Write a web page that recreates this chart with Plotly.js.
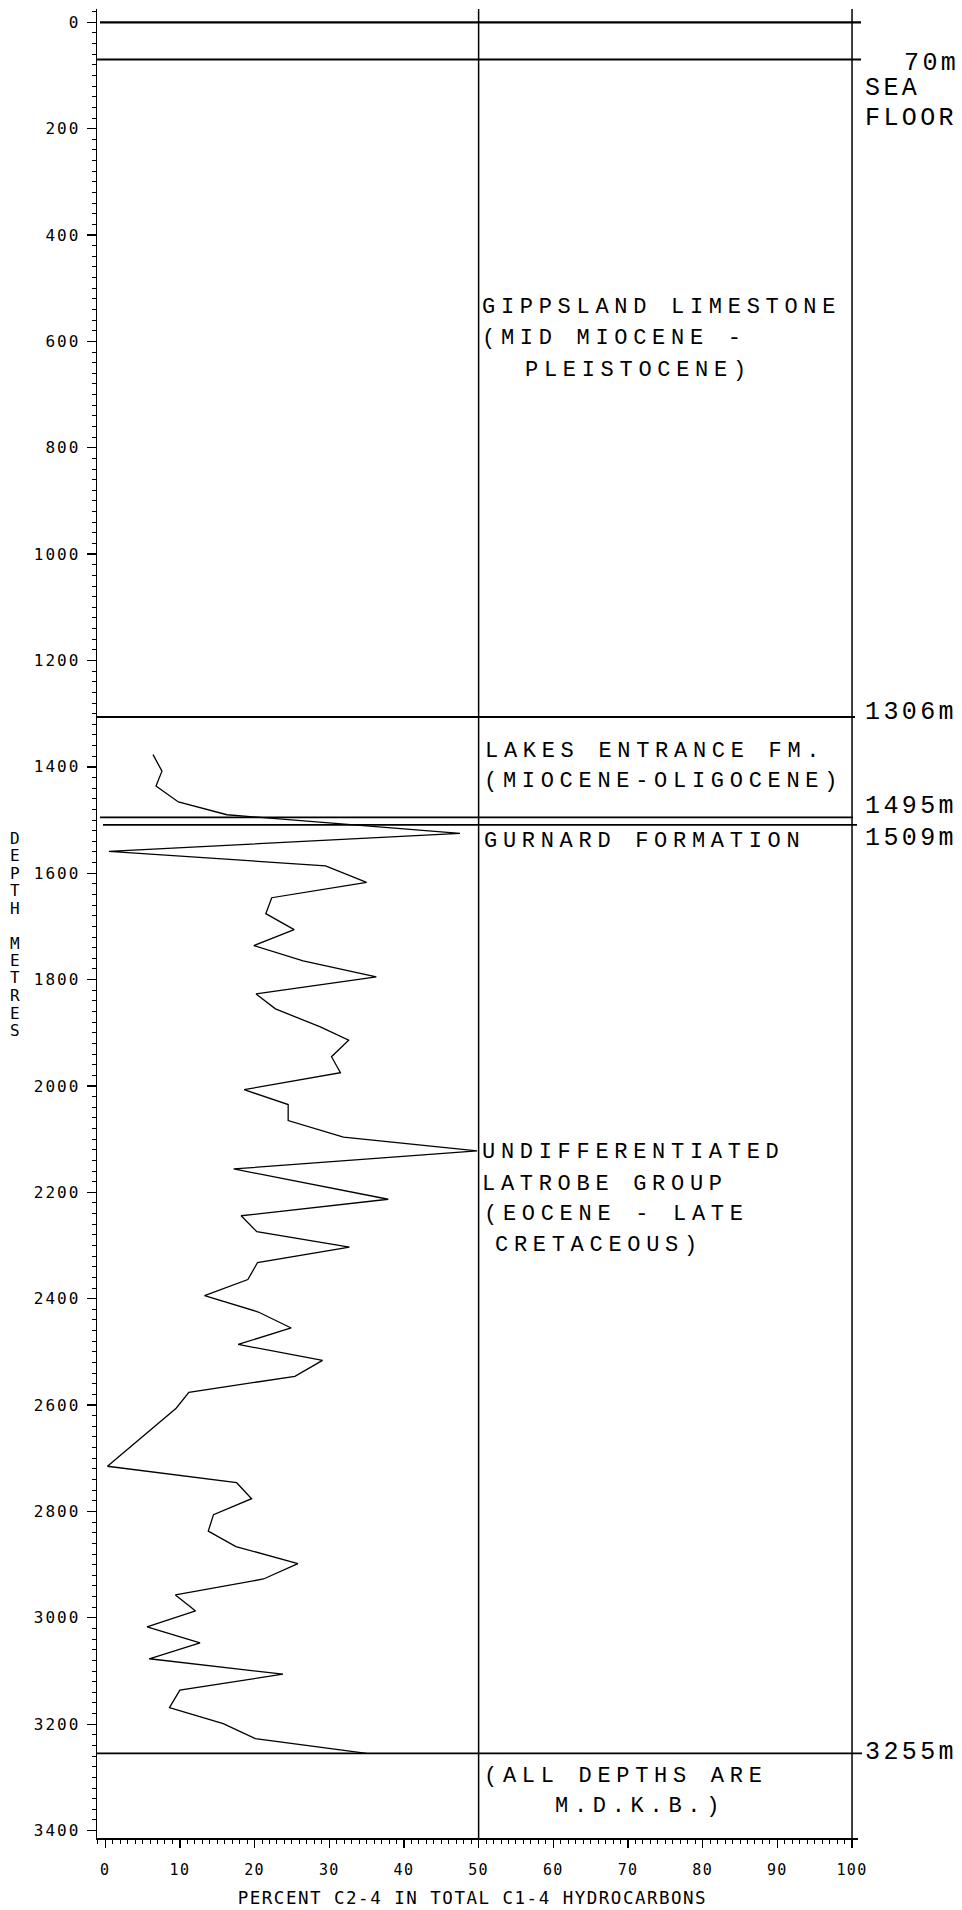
<!DOCTYPE html>
<html>
<head>
<meta charset="utf-8">
<script src="https://cdn.plot.ly/plotly-3.0.1.min.js"></script>
<style>
  html, body { margin: 0; padding: 0; background: #fff; }
  #chart { width: 962px; height: 1910px; }
</style>
</head>
<body>
<div id="chart"></div>
<script>
// ---- Well log data: percent C2-4 in total C1-4 hydrocarbons vs measured depth ----
const depthM = [1377, 1408, 1436, 1466, 1490, 1525, 1559, 1586, 1617, 1646,
                1676, 1706, 1736, 1765, 1795, 1827, 1855, 1889, 1914, 1945,
                1975, 2007, 2035, 2065, 2096, 2122, 2156, 2213, 2244, 2274,
                2303, 2332, 2364, 2394, 2425, 2455, 2486, 2516, 2546, 2576,
                2606, 2715, 2746, 2776, 2806, 2837, 2866, 2898, 2927, 2957,
                2987, 3017, 3047, 3077, 3106, 3136, 3169, 3199, 3227, 3255];
const pctC24 = [6.4, 7.6, 6.8, 9.8, 16.3, 47.5, 0.5, 29.5, 35.0, 22.3,
                21.5, 25.3, 19.9, 26.5, 36.3, 20.2, 22.8, 28.8, 32.6, 30.3,
                31.5, 18.6, 24.5, 24.5, 31.9, 49.8, 17.2, 37.9, 18.2, 20.3,
                32.7, 20.4, 19.1, 13.3, 20.5, 24.9, 17.8, 29.1, 25.4, 11.2,
                9.5, 0.3, 17.6, 19.6, 14.5, 13.8, 17.5, 25.8, 21.2, 9.4,
                12.1, 5.6, 12.7, 5.9, 23.8, 10.0, 8.6, 15.8, 20.1, 35.0];

// Formation boundaries (m) and the tops that get a depth label
const boundaryDepths = [0, 70, 1306, 1495, 1509, 3255];
const labelledTops = [70, 1306, 1495, 1509, 3255];
const seaFloorText = ['SEA', 'FLOOR'];

// Formation names written in the right half of the log
const unitNames = [
  ['GIPPSLAND LIMESTONE', '(MID MIOCENE -', 'PLEISTOCENE)'],
  ['LAKES ENTRANCE FM.', '(MIOCENE-OLIGOCENE)'],
  ['GURNARD FORMATION'],
  ['UNDIFFERENTIATED', 'LATROBE GROUP', '(EOCENE - LATE', 'CRETACEOUS)'],
  ['(ALL DEPTHS ARE', 'M.D.K.B.)']
];

const xTickVals = [0, 10, 20, 30, 40, 50, 60, 70, 80, 90, 100];
const yTickVals = [0, 200, 400, 600, 800, 1000, 1200, 1400, 1600, 1800, 2000,
                   2200, 2400, 2600, 2800, 3000, 3200, 3400];
const xTitle = 'PERCENT C2-4 IN TOTAL C1-4 HYDROCARBONS';
const yTitle = 'DEPTH METRES';

// ---- Layout geometry ----
const W = 962, H = 1910;
const M = {l: 97, r: 104, t: 9, b: 72};
const plotW = W - M.l - M.r;
const plotH = H - M.t - M.b;
const px2paperX = px => (px - M.l) / plotW;
const px2paperY = py => 1 - (py - M.t) / plotH;

const MONO = 'Liberation Mono, Courier New, monospace';
const PLOT_FONT = 'DejaVu Sans Mono, monospace';

const annotations = [];
const letterSpacing = [];
function addLabel(text, xpx, y, yref, size, family, ls, anchor) {
  annotations.push({
    text: text, xref: 'paper', x: px2paperX(xpx), yref: yref, y: y,
    xanchor: anchor || 'left', yanchor: 'middle', align: anchor || 'left',
    showarrow: false, borderwidth: 0, borderpad: 0,
    font: {family: family, size: size, color: '#000'}
  });
  letterSpacing.push(ls);
}

// formation names: [left px, depth] per line
const unitTextPos = [
  [[482, 536], [482, 595], [525, 654]],
  [[485, 1371], [484, 1428]],
  [[484, 1540]],
  [[482, 2126], [482, 2186], [484, 2241], [495, 2299]],
  [[484, 3299], [555, 3354]]
];
unitNames.forEach((lines, i) => lines.forEach((t, j) =>
  addLabel(t, unitTextPos[i][j][0], unitTextPos[i][j][1], 'y', 22, MONO, 5.7)));

// depth labels right of the log, offset from their boundary (m)
const topLabelX = [904, 865, 865, 865, 865];
const topLabelShift = [8, -8, -20, 25, -1];
labelledTops.forEach((d, i) =>
  addLabel(d + 'm', topLabelX[i], d + topLabelShift[i], 'y', 25, MONO, 3.4));
const seaFloorDepth = [125, 180];
seaFloorText.forEach((t, i) => addLabel(t, 865, seaFloorDepth[i], 'y', 25, MONO, 3.4));

// axis titles
addLabel(xTitle, 472, px2paperY(1898), 'paper', 17.5, PLOT_FONT, 1.5, 'center');
let row = 0;
for (const ch of yTitle) {
  if (ch !== ' ') addLabel(ch, 15, px2paperY(838 + row * 17.5), 'paper', 16, PLOT_FONT, 0, 'center');
  row++;
}

// ---- Boundary lines and the 50 / 100 % verticals ----
const lineStyle = {
  0:    {x0: 100, x1: 861, w: 2.2},
  70:   {x0: 97,  x1: 861, w: 2.2},
  1306: {x0: 97,  x1: 855, w: 2.0},
  1495: {x0: 100, x1: 853, w: 1.6},
  1509: {x0: 103, x1: 857, w: 1.6},
  3255: {x0: 97,  x1: 862, w: 1.8}
};
const shapes = boundaryDepths.map(d => ({
  type: 'line', xref: 'paper', yref: 'y',
  x0: px2paperX(lineStyle[d].x0), x1: px2paperX(lineStyle[d].x1), y0: d, y1: d,
  line: {color: '#000', width: lineStyle[d].w}
}));
[50, 100].forEach(v => shapes.push({
  type: 'line', xref: 'x', yref: 'paper', x0: v, x1: v, y0: 0, y1: 1,
  line: {color: '#000', width: 1.5}
}));

const trace = {
  type: 'scatter', mode: 'lines', x: pctC24, y: depthM,
  line: {color: '#000', width: 1.3}, hoverinfo: 'skip'
};

const layout = {
  width: W, height: H,
  margin: M,
  paper_bgcolor: '#fff', plot_bgcolor: '#fff',
  showlegend: false,
  xaxis: {
    range: [-1.1, 100.8], tickmode: 'array', tickvals: xTickVals,
    ticks: 'outside', ticklen: 8, tickwidth: 1.3, tickcolor: '#000',
    minor: {dtick: 1, tick0: 0, ticks: 'outside', ticklen: 4, tickwidth: 1, tickcolor: '#000'},
    showline: true, linewidth: 1.5, linecolor: '#000',
    showgrid: false, zeroline: false, ticklabelstandoff: 9,
    tickfont: {family: PLOT_FONT, size: 15, color: '#000'}
  },
  yaxis: {
    range: [3414, -25], tickmode: 'array', tickvals: yTickVals,
    ticks: 'outside', ticklen: 9, tickwidth: 1.3, tickcolor: '#000',
    minor: {dtick: 20, tick0: 0, ticks: 'outside', ticklen: 4, tickwidth: 1, tickcolor: '#000'},
    showline: true, linewidth: 1.5, linecolor: '#000',
    showgrid: false, zeroline: false, ticklabelstandoff: 3,
    tickfont: {family: PLOT_FONT, size: 16, color: '#000'}
  },
  shapes: shapes,
  annotations: annotations
};

const gd = document.getElementById('chart');
Plotly.newPlot(gd, [trace], layout, {displayModeBar: false, staticPlot: true}).then(() => {
  // widen the plotter-style lettering
  gd.querySelectorAll('g.annotation').forEach(g => {
    const i = +g.getAttribute('data-index');
    const t = g.querySelector('.annotation-text');
    if (t && letterSpacing[i]) t.style.letterSpacing = letterSpacing[i] + 'px';
  });
  gd.querySelectorAll('.ytick text').forEach(t => { t.style.letterSpacing = '2px'; });
  gd.querySelectorAll('.xtick text').forEach(t => { t.style.letterSpacing = '1.3px'; });
});
</script>
</body>
</html>
